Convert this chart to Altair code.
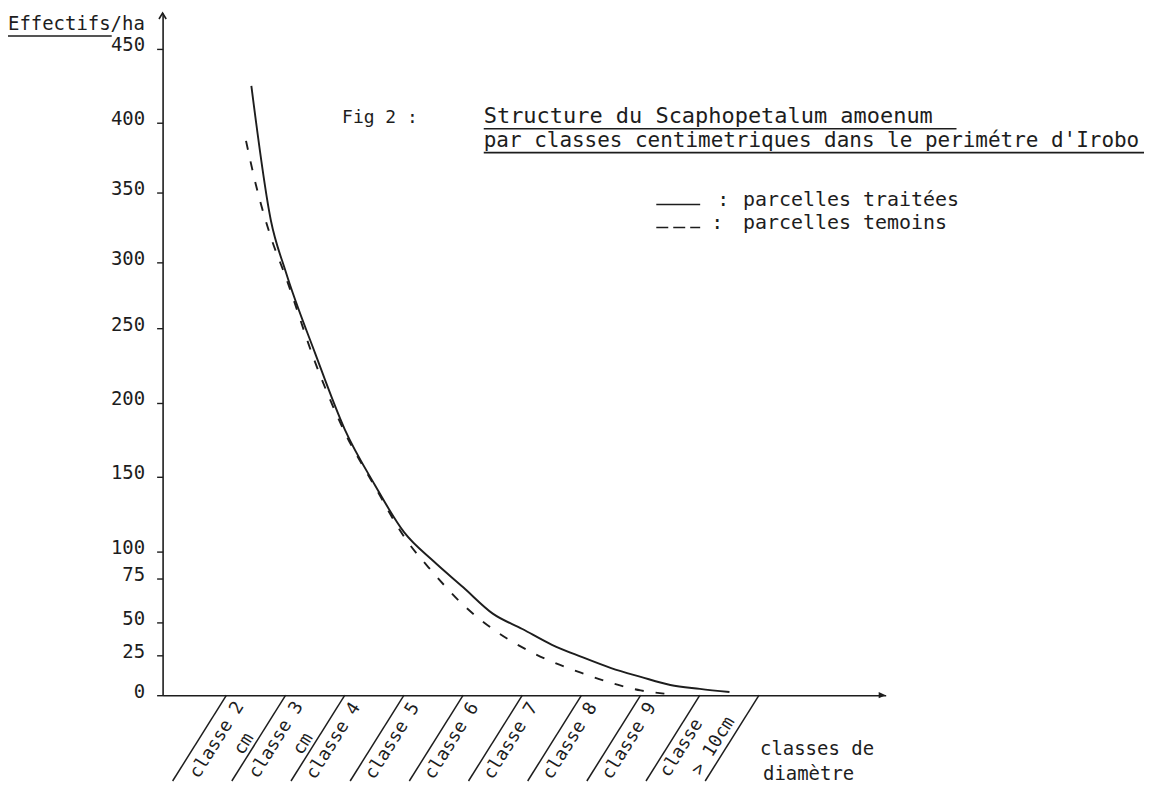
import altair as alt
import pandas as pd

# ---------------- data ----------------
classes_line1 = ["classe 2", "classe 3", "classe 4", "classe 5", "classe 6",
                 "classe 7", "classe 8", "classe 9", "classe"]
classes_line2 = ["cm", "cm", "", "", "", "", "", "", "> 10cm"]

# position along the class axis (0 = left edge of "classe 2", class centres at k+0.5)
treated_pos = [0.42, 0.75, 1.0, 1.5, 2.0, 2.5, 3.0, 3.5, 4.0, 4.5, 5.0, 5.5, 6.0, 6.5, 7.0, 7.5, 8.0, 8.5]
treated_val = [425, 330, 293, 233, 182, 145, 113, 91, 70, 55, 45, 33, 24, 17, 11.5, 6.4, 4, 2]
control_pos = [0.33, 0.5, 0.75, 1.0, 1.5, 2.0, 2.5, 3.0, 3.5, 4.0, 4.5, 5.0, 5.5, 6.0, 6.5, 7.0, 7.4]
control_val = [387, 355, 318, 289, 227, 180, 144, 110, 80, 60, 45, 31, 21, 14, 7.7, 3, 1]

y_ticks = [0, 25, 50, 75, 100, 150, 200, 250, 300, 350, 400, 450]

y_title = "Effectifs/ha"
fig_label = "Fig 2 :"
title_line1 = "Structure du Scaphopetalum amoenum"
title_line2 = "par classes centimetriques dans le perimétre d'Irobo"
legend_treated = "parcelles traitées"
legend_control = "parcelles temoins"
x_title1 = "classes de"
x_title2 = "diamètre"

# ---------------- layout / style ----------------
FONT = "DejaVu Sans Mono"
INK = "#1d1d1d"
W, H = 725, 684
Y_TOP = 475
# hand-drawn axis: irregular spacing of the graduations (piecewise scale)
Y_RANGE = [684, 644, 611, 567, 540, 465, 391, 316, 250, 180, 110, 36, 0]
X_DOMAIN = [-1.08, 11.14]

x_scale = alt.Scale(domain=X_DOMAIN, nice=False, zero=False)
y_scale = alt.Scale(domain=y_ticks + [Y_TOP], range=Y_RANGE, nice=False, zero=False)

x_axis = alt.Axis(title=None, labels=False, ticks=False, grid=False,
                  domainColor=INK, domainWidth=1.6)
y_axis = alt.Axis(title=None, values=y_ticks, grid=False, domainColor=INK, domainWidth=1.6,
                  tickColor=INK, tickSize=6, tickWidth=1.4, labelFont=FONT, labelFontSize=19,
                  labelColor=INK, labelPadding=12, labelOffset=-4)


def xq(field):
    return alt.X(field, type="quantitative", scale=x_scale, axis=x_axis)


def yq(field):
    return alt.Y(field, type="quantitative", scale=y_scale, axis=y_axis)


treated = pd.DataFrame({"pos": treated_pos, "val": treated_val})
control = pd.DataFrame({"pos": control_pos, "val": control_val})

line_treated = alt.Chart(treated).mark_line(
    color=INK, strokeWidth=1.9, interpolate="monotone"
).encode(x=xq("pos"), y=yq("val"))

line_control = alt.Chart(control).mark_line(
    color=INK, strokeWidth=1.9, interpolate="monotone", strokeDash=[9, 12]
).encode(x=xq("pos"), y=yq("val"))

# slanted separators between class labels
sep_df = pd.DataFrame({"pos": list(range(len(classes_line1) + 1)), "zero": 0})
separators = alt.Chart(sep_df).mark_rule(
    color=INK, strokeWidth=1.5, x2Offset=-54, y2Offset=86
).encode(x=xq("pos"), x2="pos:Q", y=yq("zero"), y2="zero:Q")

lab_df = pd.DataFrame({
    "pos": [i + 0.5 for i in range(len(classes_line1))],
    "l1": classes_line1,
    "l2": classes_line2,
    "zero": 0,
})


def class_text(field, flt, dx, dy):
    return alt.Chart(lab_df).transform_filter(flt).mark_text(
        angle=302, align="center", baseline="middle", font=FONT, fontSize=18,
        color=INK, xOffset=dx, yOffset=dy
    ).encode(x=xq("pos"), y=yq("zero"), text=f"{field}:N")


lab_single = class_text("l1", "datum.l2 == ''", -41, 46)
lab_cm1 = class_text("l1", "datum.l2 == 'cm'", -39, 45)
lab_cm2 = class_text("l2", "datum.l2 == 'cm'", -12, 49)
lab_last1 = class_text("l1", "datum.l2 != '' && datum.l2 != 'cm'", -48, 53)
lab_last2 = class_text("l2", "datum.l2 != '' && datum.l2 != 'cm'", -16, 51)

# arrow heads of the two axes
arrow_up = alt.Chart(pd.DataFrame({"pos": [X_DOMAIN[0]], "val": [Y_TOP]})).mark_point(
    shape="M-0.6,1L0,0L0.6,1", filled=False, size=144, strokeWidth=1.6, color=INK, opacity=1
).encode(x=xq("pos"), y=yq("val"))
arrow_right = alt.Chart(pd.DataFrame({"pos": [X_DOMAIN[1]], "val": [0]})).mark_point(
    shape="M-1,-0.45L0,0L-1,0.45Z", filled=True, size=196, color=INK, opacity=1
).encode(x=xq("pos"), y=yq("val"))


def note(text, x, y, size=19, align="left"):
    return alt.Chart(pd.DataFrame({"t": [text]})).mark_text(
        font=FONT, fontSize=size, color=INK, align=align, baseline="middle"
    ).encode(text="t:N", x=alt.value(x), y=alt.value(y))


def stroke(x1, x2, y, dash=None, width=1.6):
    kw = dict(color=INK, strokeWidth=width)
    if dash:
        kw["strokeDash"] = dash
    return alt.Chart(pd.DataFrame({"a": [0]})).mark_rule(**kw).encode(
        x=alt.value(x1), x2=alt.value(x2), y=alt.value(y), y2=alt.value(y))


annotations = [
    note(y_title, -155, 11),
    stroke(-156, -51, 23),
    note(fig_label, 180, 105, size=18),
    note(title_line1, 322, 103, size=22),
    stroke(322, 796, 116),
    note(title_line2, 322, 128, size=21),
    stroke(322, 984, 140),
    stroke(495, 539, 192),
    note(":", 556, 187, size=20),
    note(legend_treated, 582, 187, size=20),
    stroke(495, 539, 215, dash=[12, 5]),
    note(":", 550, 211, size=20),
    note(legend_control, 582, 211, size=20),
    note(x_title1, 599, 738, size=19),
    note(x_title2, 602, 763, size=19),
]

chart = alt.layer(
    separators, line_treated, line_control,
    lab_single, lab_cm1, lab_cm2, lab_last1, lab_last2,
    arrow_up, arrow_right, *annotations
).properties(
    width=W, height=H,
    padding={"left": 155, "top": 4, "right": 262, "bottom": 93},
    autosize=alt.AutoSizeParams(type="none"),
    background="white",
).configure_view(stroke=None)

chart.save("out.html", embed_options={"renderer": "svg", "actions": False})
